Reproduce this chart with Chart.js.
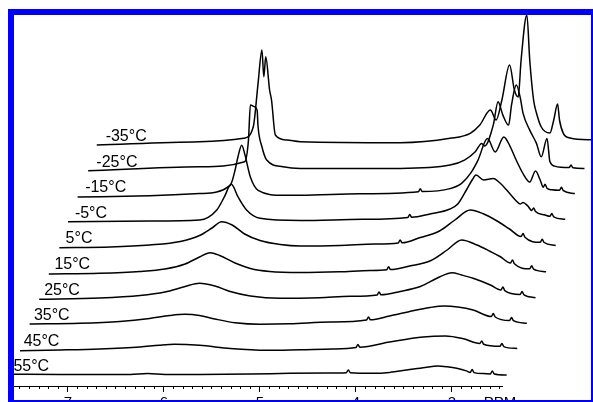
<!DOCTYPE html>
<html>
<head>
<meta charset="utf-8">
<script src="https://cdn.jsdelivr.net/npm/chart.js@4.4.1/dist/chart.umd.min.js"></script>
<style>
html, body { margin: 0; padding: 0; background: #fff; }
#frame {
    position: absolute; left: 8px; top: 9px;
    width: 577px; height: 385px;
    border-style: solid; border-color: #0000ff;
    border-width: 6px 2px 2px 6px;
    overflow: hidden; background: #fff;
}
#frame canvas { display: block; }
</style>
</head>
<body>
<div id="frame"><canvas id="nmr" width="577" height="385"></canvas></div>
<script>
// temperatures, bottom trace first
const temps = ['55', '45', '35', '25', '15', '5', '-5', '-15', '-25', '-35'];

// [ppm, intensity above the trace's own baseline]
const t55 = [[7.60,1.1],[7.08,1.0],[6.67,0.9],[6.35,1.0],[6.17,1.8],[5.99,1.0],[5.63,1.0],[5.10,1.3],[4.69,2.1],[4.30,2.4],[4.10,2.7],[4.08,5.5],[4.06,2.7],[3.82,2.1],[3.65,3.0],[3.47,5.4],[3.28,8.0],[3.15,9.4],[3.05,8.6],[2.95,7.1],[2.85,4.5],[2.81,3.0],[2.79,5.8],[2.77,2.8],[2.67,1.8],[2.60,1.5],[2.58,4.4],[2.56,1.4],[2.43,0.4]];
const t45 = [[7.60,-0.9],[7.18,-0.2],[6.77,0.8],[6.35,2.8],[6.15,4.6],[5.99,5.5],[5.73,4.5],[5.41,1.3],[5.03,-0.5],[4.68,0.1],[4.34,0.8],[4.10,2.3],[4.08,5.3],[4.06,2.6],[3.75,7.8],[3.40,12.8],[3.17,13.8],[2.99,11.3],[2.81,6.3],[2.79,8.8],[2.77,5.6],[2.60,3.5],[2.58,6.3],[2.56,3.2],[2.42,1.3]];
const t35 = [[7.60,0.2],[7.08,0.9],[6.66,2.7],[6.35,5.7],[6.14,8.7],[5.98,9.9],[5.83,8.7],[5.67,5.2],[5.46,1.5],[5.20,0.0],[4.89,0.4],[4.47,2.2],[4.09,4.2],[4.07,7.2],[4.05,4.4],[3.85,8.2],[3.64,12.7],[3.43,16.7],[3.28,18.2],[3.14,17.2],[2.98,14.2],[2.79,7.7],[2.77,10.7],[2.75,7.2],[2.60,3.7],[2.58,6.7],[2.56,3.5],[2.42,0.9]];
const t25 = [[7.60,-0.7],[6.97,0.6],[6.55,3.1],[6.29,6.6],[6.08,12.1],[5.93,15.3],[5.77,12.6],[5.61,7.1],[5.40,2.6],[5.09,0.3],[4.68,0.9],[4.36,2.3],[4.08,3.6],[4.06,6.6],[4.04,3.8],[3.84,7.1],[3.63,12.1],[3.43,21.6],[3.30,25.9],[3.20,23.6],[3.08,20.3],[2.90,13.6],[2.79,8.6],[2.77,11.6],[2.75,8.0],[2.59,4.1],[2.57,7.1],[2.55,3.8],[2.43,0.9]];
const t15 = [[7.60,-1.0],[7.07,-0.3],[6.65,1.5],[6.39,4.0],[6.18,9.0],[6.03,16.0],[5.92,20.3],[5.82,17.5],[5.66,10.0],[5.50,4.5],[5.30,1.5],[4.98,0.5],[4.57,1.2],[4.25,2.5],[4.08,3.2],[4.06,6.2],[4.04,3.4],[3.84,7.0],[3.63,12.0],[3.45,23.0],[3.30,33.0],[3.14,28.0],[3.00,21.5],[2.90,16.5],[2.79,10.0],[2.77,13.0],[2.75,9.2],[2.59,4.2],[2.57,7.2],[2.55,3.9],[2.42,1.3]];
const t5 = [[7.59,-0.3],[7.06,0.4],[6.65,2.4],[6.33,5.9],[6.13,11.9],[6.00,19.4],[5.90,25.7],[5.79,22.4],[5.66,13.4],[5.50,6.9],[5.29,2.9],[5.08,1.4],[4.67,1.9],[4.30,3.4],[4.06,4.4],[4.04,7.4],[4.02,4.6],[3.83,9.9],[3.63,16.4],[3.47,27.4],[3.31,37.4],[3.18,33.9],[3.03,26.4],[2.90,18.4],[2.78,10.9],[2.76,13.9],[2.74,10.2],[2.58,5.1],[2.56,8.1],[2.54,4.9],[2.42,1.9]];
const tm5 = [[7.60,0.1],[6.75,0.8],[6.23,1.8],[6.05,11.8],[5.97,25.1],[5.90,37.8],[5.83,25.1],[5.74,11.8],[5.60,3.5],[5.18,1.3],[4.53,2.5],[4.06,4.3],[4.04,7.3],[4.02,4.5],[3.83,7.8],[3.62,12.8],[3.54,17.8],[3.45,31.8],[3.39,41.8],[3.35,46.8],[3.27,41.8],[3.17,43.3],[3.10,38.8],[3.03,31.8],[2.94,21.8],[2.89,17.8],[2.86,19.3],[2.81,15.8],[2.77,11.3],[2.75,13.8],[2.73,10.3],[2.63,6.8],[2.58,5.5],[2.56,8.3],[2.54,5.0],[2.42,2.5]];
const tm15 = [[7.60,-0.8],[6.85,0.4],[6.33,2.6],[6.01,10.9],[5.96,25.9],[5.93,39.2],[5.89,50.9],[5.86,42.6],[5.80,19.2],[5.72,5.9],[5.46,0.9],[5.28,0.9],[4.66,2.4],[4.05,4.4],[4.03,7.4],[4.01,4.6],[3.72,7.6],[3.60,12.9],[3.50,23.9],[3.43,35.9],[3.33,57.6],[3.25,44.2],[3.16,59.2],[3.10,50.9],[3.03,35.9],[2.96,22.6],[2.89,14.2],[2.83,25.2],[2.78,15.9],[2.75,8.9],[2.73,11.9],[2.71,8.0],[2.66,6.4],[2.58,5.9],[2.56,8.9],[2.54,5.6],[2.42,2.6]];
const tm25 = [[7.59,-0.2],[6.43,3.8],[5.96,8.8],[5.92,30.5],[5.90,65.5],[5.86,64.0],[5.83,60.5],[5.82,43.8],[5.78,23.8],[5.73,10.5],[5.56,3.8],[5.38,2.2],[4.34,2.2],[3.82,5.5],[3.67,10.5],[3.56,18.5],[3.49,27.2],[3.46,24.5],[3.37,45.5],[3.32,68.8],[3.27,55.5],[3.21,45.5],[3.18,65.5],[3.13,85.5],[3.09,73.5],[3.06,57.5],[2.99,40.5],[2.92,27.2],[2.87,13.8],[2.81,32.2],[2.78,9.0],[2.73,4.5],[2.58,3.0],[2.56,5.5],[2.54,2.8],[2.42,2.2]];
const tm35 = [[7.60,0.0],[6.53,3.3],[6.07,6.7],[5.97,18.3],[5.92,61.7],[5.88,95.0],[5.86,68.3],[5.84,88.3],[5.80,55.0],[5.78,45.0],[5.74,10.0],[5.62,5.0],[5.48,3.3],[4.44,2.3],[3.92,6.7],[3.71,11.7],[3.61,20.0],[3.50,35.0],[3.44,25.0],[3.38,45.0],[3.30,80.0],[3.25,55.0],[3.21,48.0],[3.18,85.0],[3.12,130.0],[3.09,85.0],[3.05,45.0],[3.02,32.0],[2.97,18.0],[2.88,12.0],[2.84,25.0],[2.80,41.0],[2.78,25.0],[2.74,11.7],[2.67,7.0],[2.42,5.0]];

const traces = [t55, t45, t35, t25, t15, t5, tm5, tm15, tm25, tm35];

const majorTicks = [7, 6, 5, 4, 3];
const axisName = 'PPM';

// stacking of the traces
const shiftPpm = 0.1;
const baseH = 10.6;
const stepH = 25.6;

const datasets = traces.map((tr, i) => ({
    label: temps[i] + '°C',
    data: tr.map(p => ({ x: p[0] - shiftPpm * i, y: baseH + stepH * i + p[1] })),
    borderColor: '#000',
    borderWidth: 1.5,
    pointRadius: 0,
    fill: false,
    clip: false,
    cubicInterpolationMode: 'monotone',
    xAxisID: 'x'
}));

const tempLabels = {
    id: 'tempLabels',
    afterDatasetsDraw(chart) {
        const ctx = chart.ctx;
        const ys = chart.scales.y;
        ctx.save();
        ctx.font = '16px "Liberation Sans", Arial, sans-serif';
        ctx.fillStyle = '#000';
        ctx.textBaseline = 'alphabetic';
        chart.data.datasets.forEach((ds, i) => {
            const p = chart.getDatasetMeta(i).data[0];
            ctx.fillText(ds.label, p.x + 3 + 0.65 * i, ys.getPixelForValue(baseH + stepH * i) - 4);
        });
        ctx.restore();
    }
};

const ctx = document.getElementById('nmr');
const chart = new Chart(ctx, {
    type: 'line',
    data: { datasets: datasets },
    options: {
        responsive: false,
        animation: false,
        layout: { padding: { left: 0, right: 89, top: 0, bottom: 0 } },
        plugins: { legend: { display: false }, tooltip: { enabled: false } },
        scales: {
            x: {
                type: 'linear', position: 'bottom', reverse: true,
                min: 2.479, max: 7.5625,
                afterBuildTicks: (scale) => {
                    const t = [];
                    for (let v = 25; v <= 75; v++) t.push({ value: v / 10 });
                    scale.ticks = t;
                },
                afterFit: (scale) => { scale.height = 0; },
                ticks: { display: false },
                grid: { drawOnChartArea: false, tickLength: 3, tickColor: '#000', tickWidth: 1 },
                border: { display: true, color: '#000', width: 1 }
            },
            x2: {
                type: 'linear', position: 'bottom', reverse: true,
                min: 2.479, max: 7.5625,
                afterBuildTicks: (scale) => {
                    scale.ticks = majorTicks.map(v => ({ value: v })).concat([{ value: 2.5 }]);
                },
                afterFit: (scale) => { scale.height = 14; },
                ticks: {
                    autoSkip: false, maxRotation: 0, padding: 2,
                    color: '#000',
                    font: { family: '"Liberation Sans", Arial, sans-serif', size: 15 },
                    callback: (v) => (v === 2.5 ? axisName : String(v))
                },
                grid: {
                    drawOnChartArea: false, tickLength: 6, tickWidth: 1,
                    tickColor: (c) => (c.tick && c.tick.value === 2.5 ? 'rgba(0,0,0,0)' : '#000')
                },
                border: { display: false }
            },
            y: { display: false, min: 0, max: 371 }
        }
    },
    plugins: [tempLabels]
});
</script>
</body>
</html>
